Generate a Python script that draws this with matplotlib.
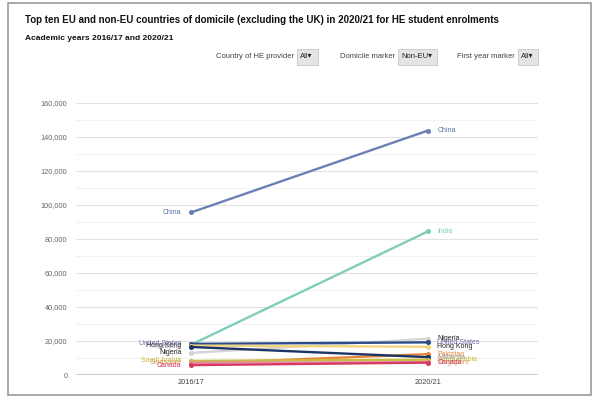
import matplotlib

matplotlib.use("Agg")
import matplotlib.pyplot as plt
from matplotlib.patches import Rectangle
from matplotlib.ticker import MultipleLocator, FuncFormatter

plt.rcParams["font.family"] = ["Liberation Sans", "DejaVu Sans"]

years = ["2016/17", "2020/21"]
countries = ["China", "India", "Nigeria", "United States", "Hong Kong",
             "Pakistan", "Malaysia", "Saudi Arabia", "Singapore", "Canada"]
v2016 = [95600, 17800, 13000, 18300, 17300, 6700, 16500, 8300, 7300, 5800]
v2020 = [143800, 84500, 21300, 19200, 16600, 12300, 10500, 9000, 7500, 7300]
line_colors = ["#6c80b6", "#80cdbb", "#d4d4d4", "#2a4a8a", "#eed67e",
               "#ea8439", "#1c3566", "#c8bd3c", "#e58fa6", "#d63a64"]
label_colors = ["#5a6ea8", "#80cdbb", "#222222", "#6a6aa8", "#222222",
                "#ea8439", "#9a9ab0", "#c8bd3c", "#d4a060", "#d63a64"]
show_left = [True, False, True, True, True, False, True, True, True, True]

fig = plt.figure(figsize=(6.04, 3.99), dpi=100)
W, H = 604, 399
fig.patches.append(Rectangle((8 / W, 1 - 395 / H), 583 / W, 392 / H,
                             transform=fig.transFigure, fill=False,
                             edgecolor="#9a9a9a", linewidth=1.2))

fig.text(25 / W, 1 - 20 / H,
         "Top ten EU and non-EU countries of domicile (excluding the UK) in 2020/21 for HE student enrolments",
         fontsize=7.0, fontweight="bold", va="center", color="#111111")
fig.text(25 / W, 1 - 38 / H, "Academic years 2016/17 and 2020/21",
         fontsize=6.0, fontweight="bold", va="center", color="#111111")

filters = [("Country of HE provider", "All", 297, 21),
           ("Domicile marker", "Non-EU", 398, 39),
           ("First year marker", "All", 518, 20)]
for lab, val, bx, bw in filters:
    fig.text((bx - 3) / W, 1 - 57 / H, lab, fontsize=5.5, ha="right",
             va="center", color="#444444")
    fig.patches.append(Rectangle((bx / W, 1 - 65 / H), bw / W, 16 / H,
                                 transform=fig.transFigure,
                                 facecolor="#e4e4e4", edgecolor="#c8c8c8",
                                 linewidth=0.6))
    fig.text((bx + 3) / W, 1 - 57 / H, val + "\u25be", fontsize=5.5,
             va="center", color="#222222")

ax = fig.add_axes([76 / W, 1 - 375 / H, 462 / W, 272 / H])
x = [0, 1]
for i, c in enumerate(countries):
    ax.plot(x, [v2016[i], v2020[i]], color=line_colors[i], linewidth=1.7,
            marker="o", markersize=2.6, zorder=3)
    if show_left[i]:
        ax.text(-0.04, v2016[i], c, fontsize=5.0, ha="right", va="center",
                color=label_colors[i], clip_on=False)
    ax.text(1.04, v2020[i], c, fontsize=5.0, ha="left", va="center",
            color=label_colors[i], clip_on=False)

ax.set_xlim(-0.485, 1.464)
ax.set_ylim(0, 160000)
ax.set_xticks(x)
ax.set_xticklabels(years, fontsize=5.3, color="#444444")
ax.yaxis.set_major_locator(MultipleLocator(20000))
ax.yaxis.set_minor_locator(MultipleLocator(10000))
ax.yaxis.set_major_formatter(FuncFormatter(lambda v, p: f"{int(v):,}"))
ax.tick_params(axis="y", labelsize=5.3, labelcolor="#666666", length=0, pad=6)
ax.tick_params(axis="x", length=0, pad=3)
ax.tick_params(which="minor", length=0)
ax.grid(axis="y", which="major", color="#e2e2e2", linewidth=0.8)
ax.grid(axis="y", which="minor", color="#f2f2f2", linewidth=0.8)
ax.axhline(0, color="#cfcfcf", linewidth=1.5, zorder=1)
ax.set_axisbelow(True)
for s in ax.spines.values():
    s.set_visible(False)

fig.savefig("out.png", dpi=100)
